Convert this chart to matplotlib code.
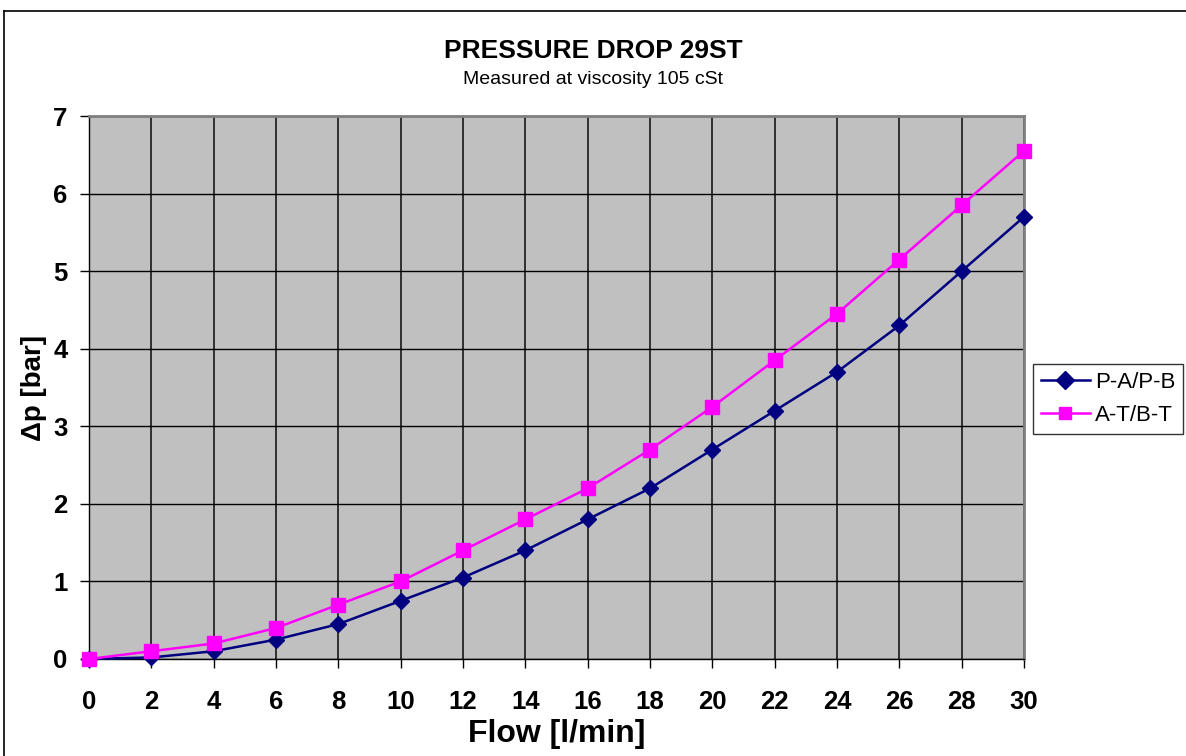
import numpy as np
import matplotlib.pyplot as plt
from matplotlib.lines import Line2D

plt.rcParams['font.family'] = ['Liberation Sans', 'DejaVu Sans']

flow = [0, 2, 4, 6, 8, 10, 12, 14, 16, 18, 20, 22, 24, 26, 28, 30]
pa_pb = [0, 0.02, 0.1, 0.25, 0.45, 0.75, 1.05, 1.4, 1.8, 2.2, 2.7, 3.2, 3.7, 4.3, 5.0, 5.7]
at_bt = [0, 0.1, 0.2, 0.4, 0.7, 1.0, 1.4, 1.8, 2.2, 2.7, 3.25, 3.85, 4.45, 5.15, 5.85, 6.55]

fig = plt.figure(figsize=(11.86, 7.56), dpi=100)
ax = fig.add_axes([89/1186, 1 - 659/756, (1024 - 89)/1186, (659 - 116)/756])

# outer chart frame (right and bottom edges fall outside the picture)
fig.add_artist(Line2D([4/1186, 4/1186], [0, 1 - 11/756], color='black', lw=1.2))
fig.add_artist(Line2D([4/1186, 1], [1 - 11/756, 1 - 11/756], color='black', lw=1.2))

ax.set_facecolor('#c0c0c0')
ax.xaxis.grid(True, color='#303030', lw=1.4)
ax.yaxis.grid(True, color='black', lw=1.0)
ax.set_axisbelow(True)
for s in ax.spines.values():
    s.set_color('#808080')
    s.set_linewidth(2)
ax.spines['left'].set_color('black')
ax.spines['left'].set_linewidth(1)
ax.spines['bottom'].set_color('black')
ax.spines['bottom'].set_linewidth(1)

ax.plot(flow, pa_pb, color='#000080', lw=1.8, marker='D', ms=8, label='P-A/P-B', clip_on=False, zorder=3)
ax.plot(flow, at_bt, color='#ff00ff', lw=1.8, marker='s', ms=10, label='A-T/B-T', clip_on=False, zorder=4)

ax.set_xlim(0, 30)
ax.set_ylim(0, 7)
ax.set_xticks(np.arange(0, 31, 2))
ax.set_yticks(np.arange(0, 8, 1))
ax.tick_params(axis='both', labelsize=18.5, length=6.5, width=1, direction='out', color='black')
ax.tick_params(axis='x', pad=16)
ax.tick_params(axis='y', pad=9)
for lab in ax.get_xticklabels() + ax.get_yticklabels():
    lab.set_fontweight('bold')

ax.set_xlabel('Flow [l/min]', fontsize=23, fontweight='bold')
ax.xaxis.set_label_coords(0.5, -(719 - 659)/543)
ax.set_ylabel('Δp [bar]', fontsize=20, fontweight='bold')
ax.yaxis.set_label_coords(-(89 - 47)/935, 0.5)

fig.text(0.5, 1 - 51/756, 'PRESSURE DROP 29ST', ha='center', va='center', fontsize=19, fontweight='bold')
fig.text(0.5, 1 - 80/756, 'Measured at viscosity 105 cSt', ha='center', va='center', fontsize=14)

leg = ax.legend(loc='center left', bbox_to_anchor=(1033/1186, 1 - 399/756), bbox_transform=fig.transFigure,
                fontsize=16, frameon=True, fancybox=False, edgecolor='black', borderpad=0.35,
                handlelength=2.2, handletextpad=0.25, labelspacing=0.55, borderaxespad=0)
leg.get_frame().set_linewidth(1)
for h in leg.legend_handles:
    h.set_markersize(9)

fig.savefig('out.png', dpi=100)
